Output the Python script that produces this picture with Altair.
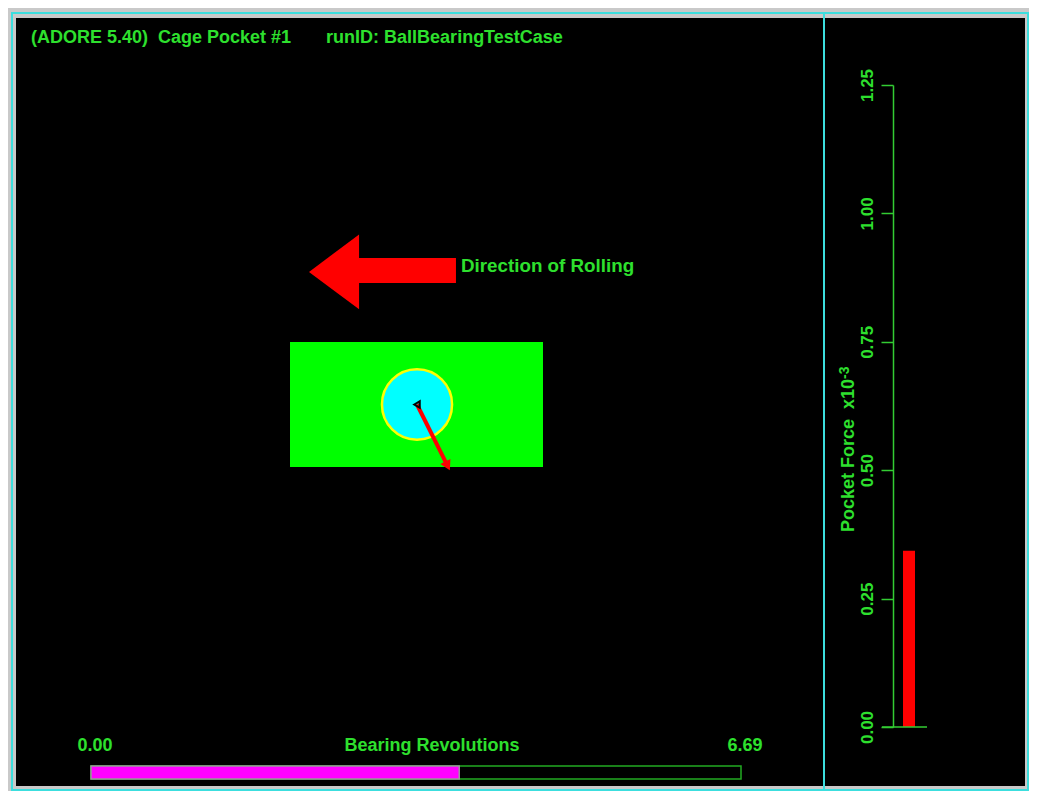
import altair as alt
import pandas as pd

NB = "\u00a0"

# ---------------- data ----------------
title_text = ["(ADORE 5.40)" + NB * 2 + "Cage Pocket #1" + NB * 7 + "runID: BallBearingTestCase"]
direction_label = ["Direction of Rolling"]

# cage pocket / ball schematic (schematic units, pocket centred at origin)
pocket_length = [10.0]
pocket_width = [4.94]
ball_center = [0.02, 0.0]
ball_diameter = [2.77]
force_vector = [1.30, -2.61]          # contact force drawn from the ball centre

# rolling-direction arrow (schematic units)
arrow_tip = [-4.25, 5.24]
arrow_head_base_x = [-2.27]
arrow_head_half_height = [1.48]
arrow_shaft_end_x = [1.56]
arrow_shaft_y = [4.80, 5.79]

# pocket force gauge (x10^-3)
force_ticks = [0.0, 0.25, 0.50, 0.75, 1.00, 1.25]
pocket_force = [0.343]
force_title = ["Pocket Force" + NB * 2 + "x10"]
force_exp = ["-3"]

# bearing revolutions progress
rev_bounds = [0.0, 6.69]
rev_current = [3.79]
rev_title = ["Bearing Revolutions"]

# ---------------- style / layout ----------------
W, H = 1009, 768
GREEN = "#2ee02e"
AXGREEN = "#33cc33"
CYAN = "#3cdede"
FONT = "Liberation Sans"

L = pocket_length[0]
Wd = pocket_width[0]
sx = alt.Scale(domain=[-L / 2, L / 2], range=[274, 527], nice=False, zero=False)
sy = alt.Scale(domain=[-Wd / 2, Wd / 2], range=[449, 324], nice=False, zero=False)
px_per_unit = (527 - 274) / L
fy = alt.Scale(domain=[force_ticks[0], force_ticks[-1]], range=[709, 67], nice=False, zero=False)
rx = alt.Scale(domain=rev_bounds, range=[75, 725], nice=False, zero=False)


def X(f):
    return alt.X(f, scale=sx, axis=None)


def Y(f):
    return alt.Y(f, scale=sy, axis=None)


one = pd.DataFrame({"d": [0]})

# ---------------- frame ----------------
frame = alt.Chart(one).mark_rect(fillOpacity=0, stroke=CYAN, strokeWidth=2).encode(
    x=alt.value(-4), x2=alt.value(W + 3), y=alt.value(-5), y2=alt.value(H + 4))
divider = alt.Chart(one).mark_rule(color=CYAN, strokeWidth=2).encode(
    x=alt.value(808), y=alt.value(-5), y2=alt.value(H + 4))

# ---------------- schematic ----------------
pocket_df = pd.DataFrame({"x": [-L / 2], "x2": [L / 2], "y": [-Wd / 2], "y2": [Wd / 2]})
pocket = alt.Chart(pocket_df).mark_rect(color="#00ff00").encode(
    x=X("x:Q"), x2="x2", y=Y("y:Q"), y2="y2")

ball_df = pd.DataFrame({"x": [ball_center[0]], "y": [ball_center[1]]})
ball = alt.Chart(ball_df).mark_point(
    shape="circle", filled=True, fill="#00ffff", stroke="#ffff00", strokeWidth=2.5,
    opacity=1, fillOpacity=1, strokeOpacity=1,
    size=(ball_diameter[0] * px_per_unit) ** 2).encode(x=X("x:Q"), y=Y("y:Q"))

marker = alt.Chart(ball_df).mark_point(
    shape="triangle-left", filled=False, stroke="black", strokeWidth=2,
    size=40, opacity=1).encode(x=X("x:Q"), y=Y("y:Q"))

fx0, fy0 = ball_center
fvx, fvy = force_vector
force_line_df = pd.DataFrame({"x": [fx0], "y": [fy0],
                              "x2": [fx0 + 0.88 * fvx], "y2": [fy0 + 0.88 * fvy]})
force_line = alt.Chart(force_line_df).mark_rule(color="#ff0000", strokeWidth=4).encode(
    x=X("x:Q"), y=Y("y:Q"), x2="x2", y2="y2")
head_df = pd.DataFrame({"x": [fx0 + 0.93 * fvx], "y": [fy0 + 0.93 * fvy]})
force_head = alt.Chart(head_df).mark_point(
    shape="triangle-up", filled=True, color="#ff0000", size=130, angle=153, opacity=1).encode(
    x=X("x:Q"), y=Y("y:Q"))

# direction-of-rolling arrow: shaft (rect) + head (custom triangle symbol)
shaft_df = pd.DataFrame({"x": [arrow_head_base_x[0] - 0.05], "x2": arrow_shaft_end_x,
                         "y": [arrow_shaft_y[0]], "y2": [arrow_shaft_y[1]]})
shaft = alt.Chart(shaft_df).mark_rect(color="#ff0000").encode(
    x=X("x:Q"), x2="x2", y=Y("y:Q"), y2="y2")
head_len = arrow_head_base_x[0] - arrow_tip[0]
unit_px = head_len * px_per_unit / 2
ratio = arrow_head_half_height[0] / (head_len / 2)
head_path = f"M-1,0L1,{-ratio:.4f}L1,{ratio:.4f}Z"
dir_head_df = pd.DataFrame({"x": [(arrow_tip[0] + arrow_head_base_x[0]) / 2], "y": [arrow_tip[1]]})
dir_head = alt.Chart(dir_head_df).mark_point(
    shape=head_path, filled=True, color="#ff0000", opacity=1, size=(2 * unit_px) ** 2).encode(
    x=X("x:Q"), y=Y("y:Q"))

txt = dict(font=FONT, fontWeight="bold", fontSize=18, color=GREEN)

title = alt.Chart(pd.DataFrame({"t": title_text})).mark_text(
    align="left", baseline="middle", **txt).encode(
    text="t:N", x=alt.value(15), y=alt.value(20))

direction = alt.Chart(pd.DataFrame({"t": direction_label})).mark_text(
    align="left", baseline="middle", font=FONT, fontWeight="bold", fontSize=18.8,
    color=GREEN).encode(text="t:N", x=alt.value(445), y=alt.value(248))

# ---------------- revolutions progress ----------------
BAR_Y0, BAR_Y1, LAB_Y = 748, 761, 728
outline = alt.Chart(pd.DataFrame({"a": [rev_bounds[0]], "b": [rev_bounds[1]]})).mark_rect(
    fill="black", stroke="#22aa22", strokeWidth=1.5).encode(
    x=alt.X("a:Q", scale=rx, axis=None), x2="b",
    y=alt.value(BAR_Y0), y2=alt.value(BAR_Y1))
progress = alt.Chart(pd.DataFrame({"a": [rev_bounds[0]], "b": rev_current})).mark_rect(
    fill="#ff00ff", stroke="#999999", strokeWidth=1.5).encode(
    x=alt.X("a:Q", scale=rx, axis=None), x2="b",
    y=alt.value(BAR_Y0), y2=alt.value(BAR_Y1))
rev_labels = alt.Chart(pd.DataFrame({"v": rev_bounds,
                                     "lab": [f"{v:.2f}" for v in rev_bounds]})).mark_text(
    align="center", baseline="middle", dx=4, **txt).encode(
    x=alt.X("v:Q", scale=rx, axis=None), y=alt.value(LAB_Y), text="lab:N")
rev_name = alt.Chart(pd.DataFrame({"t": rev_title})).mark_text(
    align="center", baseline="middle", **txt).encode(
    text="t:N", x=alt.value(416), y=alt.value(LAB_Y))

# ---------------- pocket force gauge ----------------
force_df = pd.DataFrame({"f": pocket_force, "base": [0.0]})
force_bar = alt.Chart(force_df).mark_rect(color="#ff0000").encode(
    x=alt.value(887), x2=alt.value(899),
    y=alt.Y("f:Q", scale=fy, axis=alt.Axis(
        values=force_ticks, format=".2f", orient="left", offset=-877,
        labelAngle=270, labelAlign="center", labelBaseline="bottom",
        labelFont=FONT, labelFontWeight="bold", labelFontSize=17, labelColor=GREEN,
        labelPadding=5, tickSize=12, tickColor=AXGREEN, tickWidth=1.5,
        domainColor=AXGREEN, domainWidth=1.5, grid=False, title=None,
        labelOverlap=False)),
    y2="base")
baseline = alt.Chart(pd.DataFrame({"b": [0.0]})).mark_rule(color=AXGREEN, strokeWidth=1.5).encode(
    y=alt.Y("b:Q", scale=fy, axis=None), x=alt.value(866), x2=alt.value(911))
ftitle = alt.Chart(pd.DataFrame({"t": force_title})).mark_text(
    align="left", baseline="middle", angle=270, font=FONT, fontWeight="bold",
    fontSize=18, color=GREEN).encode(text="t:N", x=alt.value(833), y=alt.value(514))
fexp = alt.Chart(pd.DataFrame({"t": force_exp})).mark_text(
    align="left", baseline="middle", angle=270, font=FONT, fontWeight="bold",
    fontSize=14, color=GREEN).encode(text="t:N", x=alt.value(829), y=alt.value(361))

chart = alt.layer(
    pocket, ball, force_line, force_head, marker, shaft, dir_head, title, direction,
    outline, progress, rev_labels, rev_name,
    force_bar, baseline, ftitle, fexp, divider, frame
).resolve_scale(x="independent", y="independent").properties(
    width=W, height=H,
    background="#c9c9c9",
    padding={"left": 8, "top": 10, "right": 4, "bottom": 5},
    autosize=alt.AutoSizeParams(type="none"),
).configure_view(fill="black", stroke=None)

chart.save("out.html", embed_options={"renderer": "svg", "actions": False})
